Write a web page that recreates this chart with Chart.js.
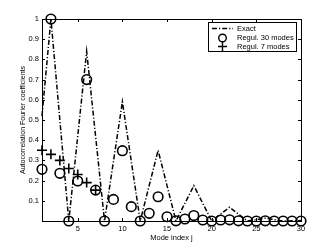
<!DOCTYPE html>
<html>
<head>
<meta charset="utf-8">
<script src="https://cdn.jsdelivr.net/npm/chart.js@4"></script>
<style>
  html, body { margin: 0; padding: 0; background: #fff; }
  #wrap { width: 332px; height: 250px; }
</style>
</head>
<body>
<div id="wrap"><canvas id="chart" width="332" height="250"></canvas></div>
<script>
// values
const exactJ = [1, 2, 4, 6, 8, 10, 12, 14, 16, 18, 20, 22, 24, 26, 28, 30];
const exactVal = [0.52, 1.0, 0, 0.84, 0, 0.59, 0, 0.35, 0, 0.175, 0, 0.068, 0, 0.014, 0, 0.002];

const modes30 = [1, 2, 3, 4, 5, 6, 7, 8, 9, 10, 11, 12, 13, 14, 15, 16, 17, 18, 19, 20, 21, 22, 23, 24, 25, 26, 27, 28, 29, 30];
const regul30 = [0.256, 1.0, 0.236, 0, 0.198, 0.70, 0.153, 0, 0.107, 0.348, 0.071, 0, 0.038, 0.12, 0.021, 0.001, 0.01, 0.027, 0.005, 0, 0.005, 0.006, 0.001, 0, 0, 0.001, 0, 0, 0, 0];

const modes7 = [1, 2, 3, 4, 5, 6, 7];
const regul7 = [0.35, 0.33, 0.30, 0.26, 0.23, 0.19, 0.153];

const xTicks = [5, 10, 15, 20, 25, 30];
const yTicks = [0, 0.1, 0.2, 0.3, 0.4, 0.5, 0.6, 0.7, 0.8, 0.9, 1];

const FONT = "'Liberation Sans', Arial, sans-serif";

const pts = (xs, ys) => xs.map((x, i) => ({ x, y: ys[i] }));

// matlab style box, inward ticks, legend box
const matlabAxes = {
  id: "matlabAxes",
  afterDraw(chart) {
    const { ctx, chartArea: a, scales } = chart;
    ctx.save();
    ctx.strokeStyle = "#000";
    ctx.lineWidth = 1;
    ctx.strokeRect(Math.round(a.left) + 0.5, Math.round(a.top) + 0.5,
      Math.round(a.right - a.left), Math.round(a.bottom - a.top));
    const tl = 3;
    ctx.beginPath();
    for (const t of xTicks) {
      const x = Math.round(scales.x.getPixelForValue(t)) + 0.5;
      ctx.moveTo(x, a.bottom); ctx.lineTo(x, a.bottom - tl);
      ctx.moveTo(x, a.top); ctx.lineTo(x, a.top + tl);
    }
    for (const t of yTicks) {
      const y = Math.round(scales.y.getPixelForValue(t)) + 0.5;
      ctx.moveTo(a.left, y); ctx.lineTo(a.left + tl, y);
      ctx.moveTo(a.right, y); ctx.lineTo(a.right - tl, y);
    }
    ctx.stroke();

    // legend
    const lx = 208.5, ly = 22.5, lw = 88, lh = 29;
    ctx.fillStyle = "#fff";
    ctx.fillRect(lx, ly, lw, lh);
    ctx.strokeRect(lx, ly, lw, lh);
    ctx.font = "7.5px " + FONT;
    ctx.fillStyle = "#000";
    ctx.textBaseline = "middle";
    const rows = [28.5, 38, 46.5];
    chart.data.datasets.forEach((ds, i) => {
      const y = rows[i];
      ctx.lineWidth = 1.4;
      if (i === 0) {
        ctx.setLineDash(ds.borderDash);
        ctx.beginPath(); ctx.moveTo(212, y); ctx.lineTo(233, y); ctx.stroke();
        ctx.setLineDash([]);
      } else if (i === 1) {
        ctx.beginPath(); ctx.arc(222.5, y, 3.8, 0, Math.PI * 2); ctx.stroke();
      } else {
        ctx.beginPath();
        ctx.moveTo(218, y); ctx.lineTo(227, y);
        ctx.moveTo(222.5, y - 4.5); ctx.lineTo(222.5, y + 4.5);
        ctx.stroke();
      }
      ctx.fillText(ds.label, 237, y);
    });
    ctx.restore();
  },
};

new Chart(document.getElementById("chart"), {
  type: "line",
  data: {
    datasets: [
      {
        label: "Exact",
        data: pts(exactJ, exactVal),
        borderColor: "#000",
        borderWidth: 1.5,
        borderDash: [5, 2, 1.2, 2],
        pointRadius: 0,
        fill: false,
      },
      {
        label: "Regul. 30 modes",
        data: pts(modes30, regul30),
        showLine: false,
        pointStyle: "circle",
        pointRadius: 4.8,
        pointBorderWidth: 1.6,
        pointBorderColor: "#000",
        pointBackgroundColor: "rgba(0,0,0,0)",
      },
      {
        label: "Regul. 7 modes",
        data: pts(modes7, regul7),
        showLine: false,
        pointStyle: "cross",
        pointRadius: 5,
        pointBorderWidth: 1.6,
        pointBorderColor: "#000",
      },
    ],
  },
  options: {
    responsive: false,
    animation: false,
    clip: false,
    layout: { padding: { top: 19, right: 31, left: 0, bottom: 0 } },
    plugins: { legend: { display: false }, tooltip: { enabled: false } },
    scales: {
      x: {
        type: "linear",
        min: 1,
        max: 30,
        afterBuildTicks: (s) => { s.ticks = xTicks.map((v) => ({ value: v })); },
        afterFit: (s) => { s.height = 29; },
        grid: { display: false, drawTicks: false },
        border: { display: false },
        ticks: { color: "#000", font: { family: FONT, size: 7.5 }, padding: 3, maxRotation: 0 },
        title: { display: true, text: "Mode index j", color: "#000", font: { family: FONT, size: 7.5 }, padding: { top: 0, bottom: 8 } },
      },
      y: {
        type: "linear",
        min: 0,
        max: 1,
        afterBuildTicks: (s) => { s.ticks = yTicks.map((v) => ({ value: v })); },
        afterFit: (s) => { s.width = 42; },
        grid: { display: false, drawTicks: false },
        border: { display: false },
        ticks: {
          color: "#000",
          font: { family: FONT, size: 7.5 },
          padding: 3,
          callback: (v) => (v === 0 ? "" : String(Math.round(v * 10) / 10)),
        },
        title: { display: true, text: "Autocorrelation Fourier coefficients", color: "#000", font: { family: FONT, size: 7 }, padding: { top: 19, bottom: 0 } },
      },
    },
  },
  plugins: [matlabAxes],
});
</script>
</body>
</html>
